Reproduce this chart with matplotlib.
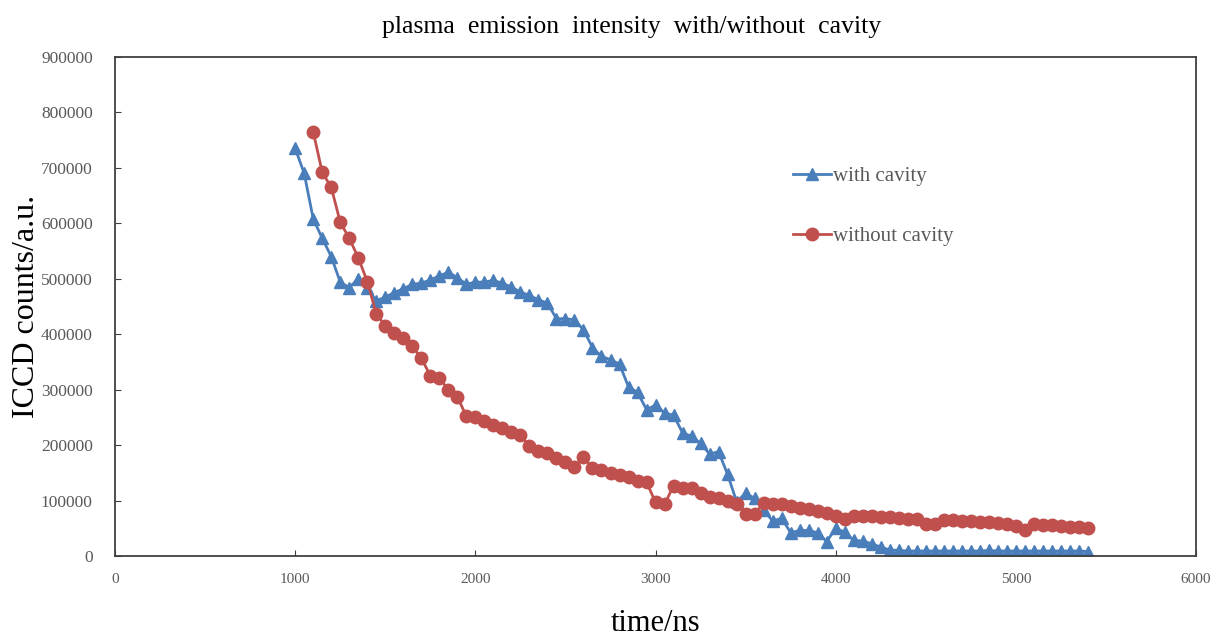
import numpy as np
import matplotlib.pyplot as plt

plt.rcParams['font.family'] = ['Liberation Serif', 'DejaVu Serif']

# time axis (ns), one reading every 50 ns
t_with = np.arange(1000, 5401, 50)
t_without = np.arange(1100, 5401, 50)

with_cavity = [
    735000, 690000, 608000, 573000, 540000, 494000, 484000, 500000, 484000, 460000,
    467000, 475000, 482000, 490000, 492000, 498000, 505000, 512000, 502000, 490000,
    494000, 494000, 497000, 492000, 485000, 476000, 470000, 462000, 456000, 428000,
    428000, 426000, 408000, 376000, 360000, 354000, 346000, 305000, 295000, 264000,
    272000, 258000, 254000, 222000, 216000, 203000, 184000, 188000, 147000, 98000,
    113000, 104000, 83000, 63000, 68000, 42000, 46000, 46000, 42000, 26000,
    50000, 43000, 28000, 27000, 22000, 16000, 11000, 10000, 9000, 9000,
    9000, 9000, 9000, 9000, 9000, 9000, 9000, 10000, 9000, 9000,
    9000, 9000, 9000, 9000, 9000, 9000, 9000, 9000, 8000,
]

without_cavity = [
    765000, 692000, 665000, 602000, 573000, 538000, 495000, 437000, 415000, 403000,
    393000, 378000, 357000, 325000, 321000, 300000, 287000, 252000, 251000, 244000,
    237000, 231000, 224000, 218000, 198000, 190000, 186000, 176000, 169000, 160000,
    178000, 159000, 155000, 150000, 146000, 142000, 135000, 133000, 97000, 93000,
    127000, 123000, 122000, 114000, 106000, 104000, 100000, 93000, 76000, 76000,
    95000, 94000, 93000, 90000, 87000, 85000, 82000, 78000, 72000, 66000,
    72000, 73000, 72000, 71000, 70000, 68000, 67000, 66000, 58000, 57000,
    65000, 65000, 64000, 63000, 62000, 61000, 60000, 58000, 54000, 46000,
    57000, 56000, 55000, 54000, 53000, 52000, 51000,
]

blue = '#4A7EBB'
red = '#C0504D'
grey = '#595959'

fig = plt.figure(figsize=(12.16, 6.36), dpi=100)
ax = fig.add_axes([0.0946, 0.1258, 0.889, 0.7846])

ax.plot(t_with, with_cavity, color=blue, lw=2, marker='^', ms=8,
        label='with cavity')
ax.plot(t_without, without_cavity, color=red, lw=2, marker='o', ms=9,
        label='without cavity')

ax.set_xlim(0, 6000)
ax.set_ylim(0, 900000)
ax.set_xticks(np.arange(0, 6001, 1000))
ax.set_yticks(np.arange(0, 900001, 100000))
ax.tick_params(direction='in', length=4, colors='#404040', labelcolor=grey)
ax.tick_params(axis='x', labelsize=11, pad=12)
ax.tick_params(axis='y', labelsize=12.5, pad=16)
for s in ax.spines.values():
    s.set_color('#404040')
    s.set_linewidth(1.3)

ax.set_xlabel('time/ns', fontsize=22, labelpad=17)
ax.set_ylabel('ICCD counts/a.u.', fontsize=23, labelpad=0)
fig.text(0.519, 0.958, 'plasma  emission  intensity  with/without  cavity',
         ha='center', va='center', fontsize=18.5)

leg = ax.legend(loc='upper left', bbox_to_anchor=(0.61, 0.818), frameon=False,
                fontsize=15, labelspacing=1.95, handlelength=1.8,
                handletextpad=0.1)
for txt in leg.get_texts():
    txt.set_color(grey)

fig.savefig('out.png', dpi=100)
